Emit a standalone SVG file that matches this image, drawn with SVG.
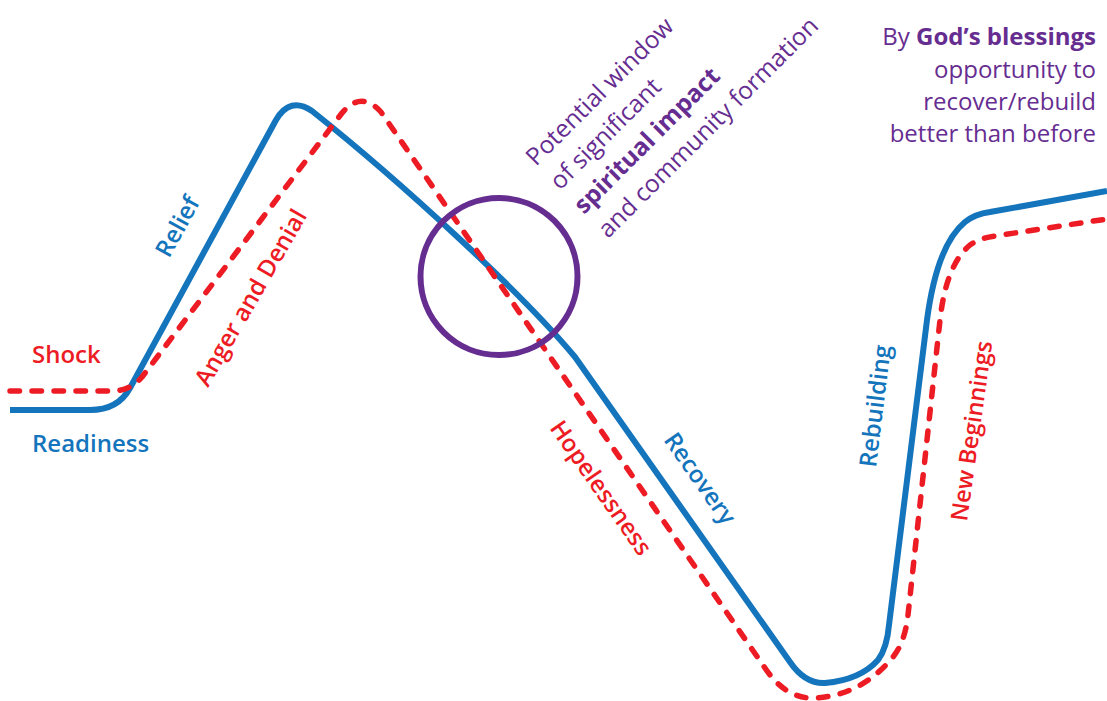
<svg xmlns="http://www.w3.org/2000/svg" width="1107" height="701" viewBox="0 0 1107 701">
<style>
.blue{fill:none;stroke:#1474BC;stroke-width:6;stroke-linejoin:round;stroke-linecap:butt}
.red{fill:none;stroke:#ED1C24;stroke-width:5.5;stroke-dasharray:9.5 12.5;stroke-linecap:round;stroke-linejoin:round}
.ring{fill:none;stroke:#662D91;stroke-width:6}
.lbl{font-family:"Open Sans","Liberation Sans",sans-serif;font-size:24px;font-weight:600}
.lb{fill:#1474BC}
.lr{fill:#ED1C24}
.pt{font-family:"Open Sans","Liberation Sans",sans-serif;font-size:24px;fill:#662D91}
.b{font-weight:700}
</style>
<rect width="1107" height="701" fill="#ffffff"/>
<g id="connectors">
<path class="blue" d="M 10 410 L 90 410 Q 118 410 130 388 L 276 120 Q 290 96 312 111 C 400 181 520 291 575 357 L 790 662 Q 805 684 825 683 Q 860 680 878 660 Q 887 648 889 625 L 927 320 Q 937 245 965 222 Q 975 214 990 212 L 1107 191"/>
<path class="red" d="M 10 391 L 112 391 Q 130 391 142 377 L 342 113 Q 361 90 381 112 L 765 668 Q 785 698 812 698 Q 860 697 893 657 Q 905 642 908 615 L 940 320 Q 946 265 970 245 Q 980 238 995 236 L 1107 219"/>
</g>
<g id="window">
<circle class="ring" cx="499" cy="276.5" r="78.5"/>
<g class="pt" transform="translate(536,167) rotate(-45)" style="font-size:24.5px">
<text x="0" y="0">Potential window</text>
<text x="0" y="34">of significant</text>
<text x="0" y="68" class="b">spiritual impact</text>
<text x="0" y="102">and community formation</text>
</g>
</g>
<g id="blessings" class="pt" text-anchor="end">
<text x="1096" y="45">By <tspan class="b">God’s blessings</tspan></text>
<text x="1096" y="78">opportunity to</text>
<text x="1096" y="110">recover/rebuild</text>
<text x="1096" y="142">better than before</text>
</g>
<g id="shock"><text class="lbl lr" x="32" y="363">Shock</text></g>
<g id="readiness"><text class="lbl lb" x="32" y="452">Readiness</text></g>
<g id="relief"><text class="lbl lb" transform="translate(169,259) rotate(-61)">Relief</text></g>
<g id="anger"><text class="lbl lr" transform="translate(208,388) rotate(-60)">Anger and Denial</text></g>
<g id="hopelessness"><text class="lbl lr" transform="translate(549,428) rotate(55)">Hopelessness</text></g>
<g id="recovery"><text class="lbl lb" transform="translate(663,440) rotate(55)">Recovery</text></g>
<g id="rebuilding"><text class="lbl lb" transform="translate(876,468) rotate(-83)">Rebuilding</text></g>
<g id="newbeginnings"><text class="lbl lr" transform="translate(967,522) rotate(-82)" style="font-size:23.5px">New Beginnings</text></g>
</svg>
